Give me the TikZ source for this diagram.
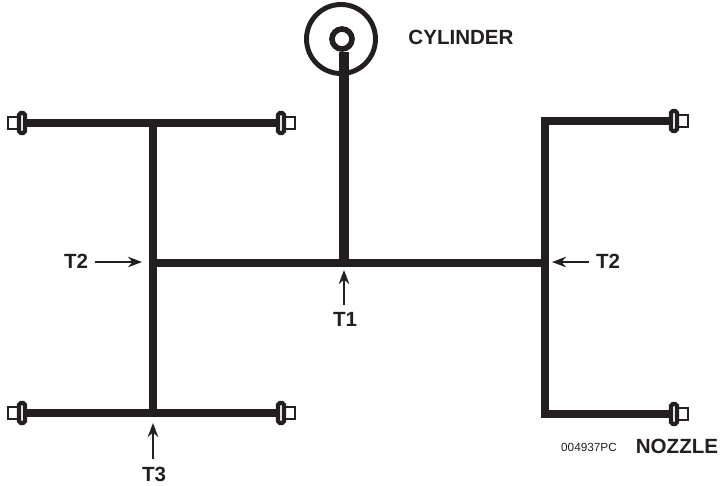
\documentclass[tikz,border=0pt]{standalone}
\usepackage{fontspec}
\setmainfont{Liberation Sans}
\usetikzlibrary{arrows.meta}
\definecolor{ink}{HTML}{231F20}
\tikzset{
  pipe/.style={draw=ink,line width=5pt},
  pointer/.style={draw=ink,line width=1.2pt,-{Stealth[length=8pt,width=6pt]}},
  lbl/.style={font=\fontsize{11.7}{13}\selectfont\bfseries,text=ink,inner sep=4pt},
  nozzle/.pic={
    \coordinate (-base) at (2,0);
    \draw[ink,line width=1.3pt,fill=white] (8,-6) rectangle (20,6);
    \draw[ink,line width=2.4pt,fill=white,rounded corners=1pt] (3,-10) rectangle (9,10);
  },
}
\begin{document}
\begin{tikzpicture}[x=0.02cm,y=-0.02cm,every node/.style={text=ink}]
\useasboundingbox (0,0) rectangle (720,485);
% cylinder
\draw[ink,line width=2.8pt] (341,39) circle (34.5);
\node[circle,draw=ink,fill=white,line width=3.2pt,minimum size=0.4cm,inner sep=0pt] (port) at (342,39) {};
\node[lbl] (cyl) at (461,37) {CYLINDER};
% junctions
\coordinate (t1) at (344,263);
\coordinate (jl) at (153,263);
\coordinate (jr) at (545,263);
\coordinate (tl) at (153,123);
\coordinate (bl) at (153,413);
\coordinate (tr) at (545,121);
\coordinate (br) at (545,414);
% nozzles
\pic (nza) at (28,123) [xscale=-1] {nozzle};
\pic (nzb) at (275,123) {nozzle};
\pic (nzc) at (28,413) [xscale=-1] {nozzle};
\pic (nzd) at (275,413) {nozzle};
\pic (nze) at (668,121) {nozzle};
\pic (nzf) at (668,414) {nozzle};
% pipes
\draw[pipe] (nza-base) -- (nzb-base);
\draw[pipe] (nzc-base) -- (nzd-base);
\draw[pipe] (tl) -- (bl);
\draw[pipe,line width=4.4pt] (jl) -- (jr);
\draw[pipe,line width=5.5pt] (port.south -| t1) -- (t1);
\draw[pipe,line join=miter] (nze-base) -- (tr) -- (br) -- (nzf-base);
% labels
\node[lbl] (t2a) at (76,261) {T2};
\node[lbl] (t2b) at (608,261) {T2};
\node[lbl] (t1a) at (345,319) {T1};
\node[lbl] (t3a) at (154,474) {T3};
\node[font=\fontsize{6.7}{8}\selectfont,inner sep=0pt] (code) at (589,447) {004937PC};
\node[lbl] (noz) at (677,446) {NOZZLE};
% arrows
\coordinate (t2ah) at (142,262);
\coordinate (t2bh) at (552,262);
\coordinate (t1h) at (344,270);
\coordinate (t3h) at (153,423);
\draw[pointer] (t2a.east |- t2ah) -- (t2ah);
\draw[pointer] (t2b.west |- t2bh) -- (t2bh);
\draw[pointer] (t1a.north -| t1h) -- (t1h);
\draw[pointer] (t3a.north -| t3h) -- (t3h);
\end{tikzpicture}
\end{document}
